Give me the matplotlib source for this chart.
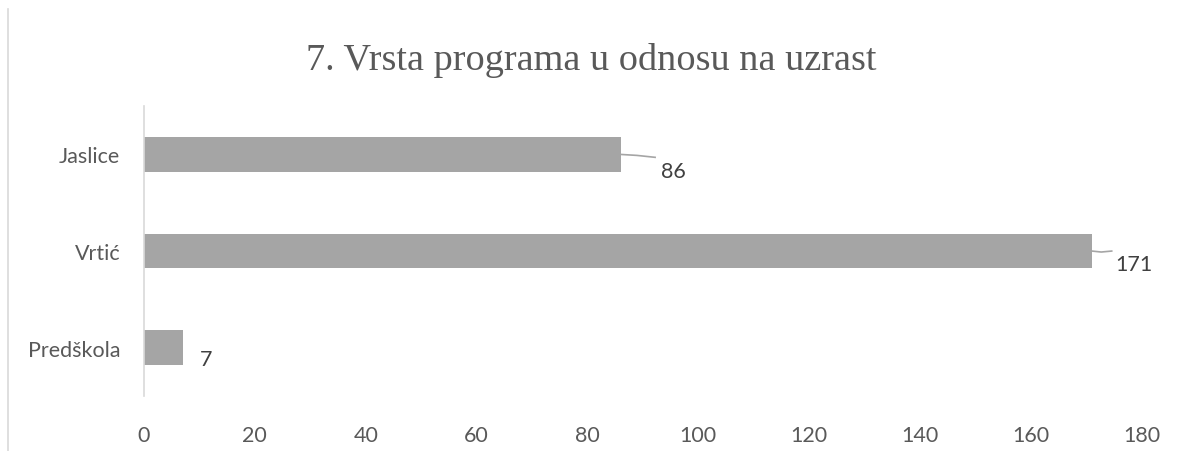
import matplotlib.pyplot as plt
from matplotlib.lines import Line2D

categories = ['Predškola', 'Vrtić', 'Jaslice']
values = [7, 171, 86]
x_ticks = [0, 20, 40, 60, 80, 100, 120, 140, 160, 180]

plt.rcParams['font.family'] = ['Lato', 'DejaVu Sans']

fig = plt.figure(figsize=(11.82, 4.52), dpi=100)
ax = fig.add_axes([0.1218, 0.1217, 0.966 - 0.1218, 0.763 - 0.1217])

bars = ax.barh(range(len(categories)), values, height=0.36, color='#a5a5a5')

ax.set_xlim(0, 180)
ax.set_ylim(-0.5, len(categories) - 0.5)
ax.set_xticks(x_ticks)
ax.set_yticks(range(len(categories)))
ax.set_yticklabels(categories)
ax.tick_params(axis='both', length=0, labelsize=15.5, colors='#595959')
ax.tick_params(axis='x', pad=21)
ax.tick_params(axis='y', pad=17)

for s in ['top', 'right', 'bottom']:
    ax.spines[s].set_visible(False)
ax.spines['left'].set_color('#d9d9d9')
ax.spines['left'].set_linewidth(1.2)

# data labels with leader lines
offsets = {7: (3.0, -0.12, False), 171: (4.2, -0.13, True), 86: (7.3, -0.17, True)}
for i, v in enumerate(values):
    dx, dy, leader = offsets[v]
    if leader:
        ax.plot([v, v + dx * 0.4, v + dx * 0.85], [i, i - 0.01, i - 0.03 if v == 86 else i],
                color='#a5a5a5', lw=1.2)
    ax.text(v + dx, i + dy, str(v), fontsize=15.5, color='#404040',
            ha='left', va='center')

fig.text(0.5, 0.867, '7. Vrsta programa u odnosu na uzrast', ha='center', va='center',
         fontsize=27.5, color='#595959', family='Liberation Serif')

fig.add_artist(Line2D([8 / 1182, 8 / 1182], [0, 1 - 10 / 452], color='#d9d9d9', lw=1.2))

fig.savefig('out.png', dpi=100)
